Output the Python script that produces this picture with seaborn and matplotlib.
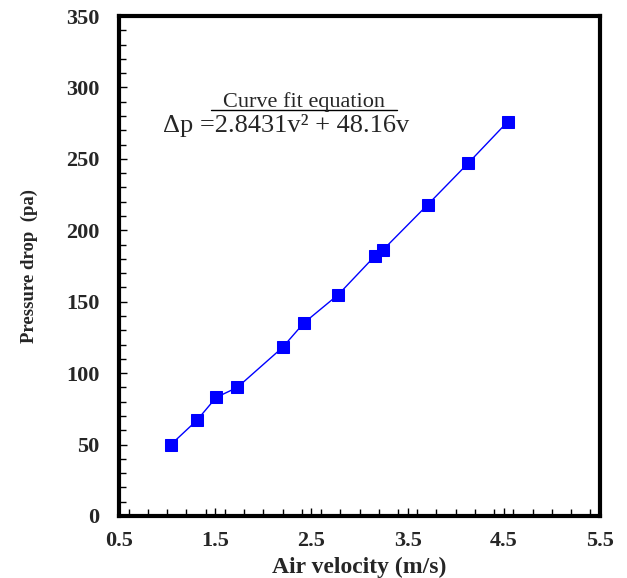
import matplotlib
matplotlib.use("Agg")
import matplotlib.pyplot as plt
import seaborn as sns
import pandas as pd
from matplotlib.ticker import MultipleLocator
from matplotlib.lines import Line2D

# ── Data ──────────────────────────────────────────────────────────────────────
air_velocity  = [1.04, 1.31, 1.51, 1.73, 2.20, 2.42, 2.78, 3.16, 3.24, 3.71, 4.13, 4.54]
pressure_drop = [50, 67, 83, 90, 118, 135, 155, 182, 186, 218, 247, 276]

x_ticks = [0.5, 1.5, 2.5, 3.5, 4.5, 5.5]
y_ticks = [0, 50, 100, 150, 200, 250, 300, 350]

df = pd.DataFrame({"v": air_velocity, "dp": pressure_drop})

sns.set_style("ticks")
plt.rcParams["font.family"] = ["Liberation Serif", "DejaVu Serif"]

fig = plt.figure(figsize=(6.27, 5.78), dpi=100)
ax = fig.add_axes([0.1898, 0.1073, 0.7672, 0.865])

sns.lineplot(data=df, x="v", y="dp", ax=ax, color="#0000ff", linewidth=1,
             marker="s", markersize=9, markeredgecolor="#0000ff",
             markerfacecolor="#0000ff")

ax.set_xlim(0.5, 5.5)
ax.set_ylim(0, 350)
ax.set_xticks(x_ticks)
ax.set_yticks(y_ticks)
ax.set_xticklabels([f"{t:.1f}" for t in x_ticks])
ax.set_yticklabels([str(t) for t in y_ticks])
ax.xaxis.set_minor_locator(MultipleLocator(0.2))
ax.yaxis.set_minor_locator(MultipleLocator(10))

ax.tick_params(which="both", direction="in", top=False, right=False,
               width=1, color="black")
ax.tick_params(which="major", length=6)
ax.tick_params(which="minor", length=5)
ax.tick_params(axis="x", which="major", pad=11, labelsize=16)
ax.tick_params(axis="y", which="major", pad=14, labelsize=16)
for lbl in ax.get_xticklabels() + ax.get_yticklabels():
    lbl.set_fontweight("bold")

for side in ["top", "bottom", "left", "right"]:
    ax.spines[side].set_visible(True)
    ax.spines[side].set_linewidth(3)
    ax.spines[side].set_color("black")

ax.set_xlabel("Air velocity (m/s)", fontsize=17, fontweight="bold")
ax.set_ylabel("Pressure drop  (pa)", fontsize=13.5, fontweight="bold")
ax.xaxis.set_label_coords(0.5, -0.082)
ax.yaxis.set_label_coords(-0.168, 0.5)

# ── Curve-fit annotation ──────────────────────────────────────────────────────
ax.text(0.385, 0.8186, "Curve fit equation", transform=ax.transAxes,
        ha="center", va="baseline", fontsize=16)
ax.add_line(Line2D([0.191, 0.578], [0.8126, 0.8126], transform=ax.transAxes,
                   color="black", linewidth=1))
ax.text(0.0915, 0.768, "\u0394p =2.8431v\u00b2 + 48.16v", transform=ax.transAxes,
        ha="left", va="baseline", fontsize=19)

fig.savefig("out.png", dpi=100)
plt.close(fig)
